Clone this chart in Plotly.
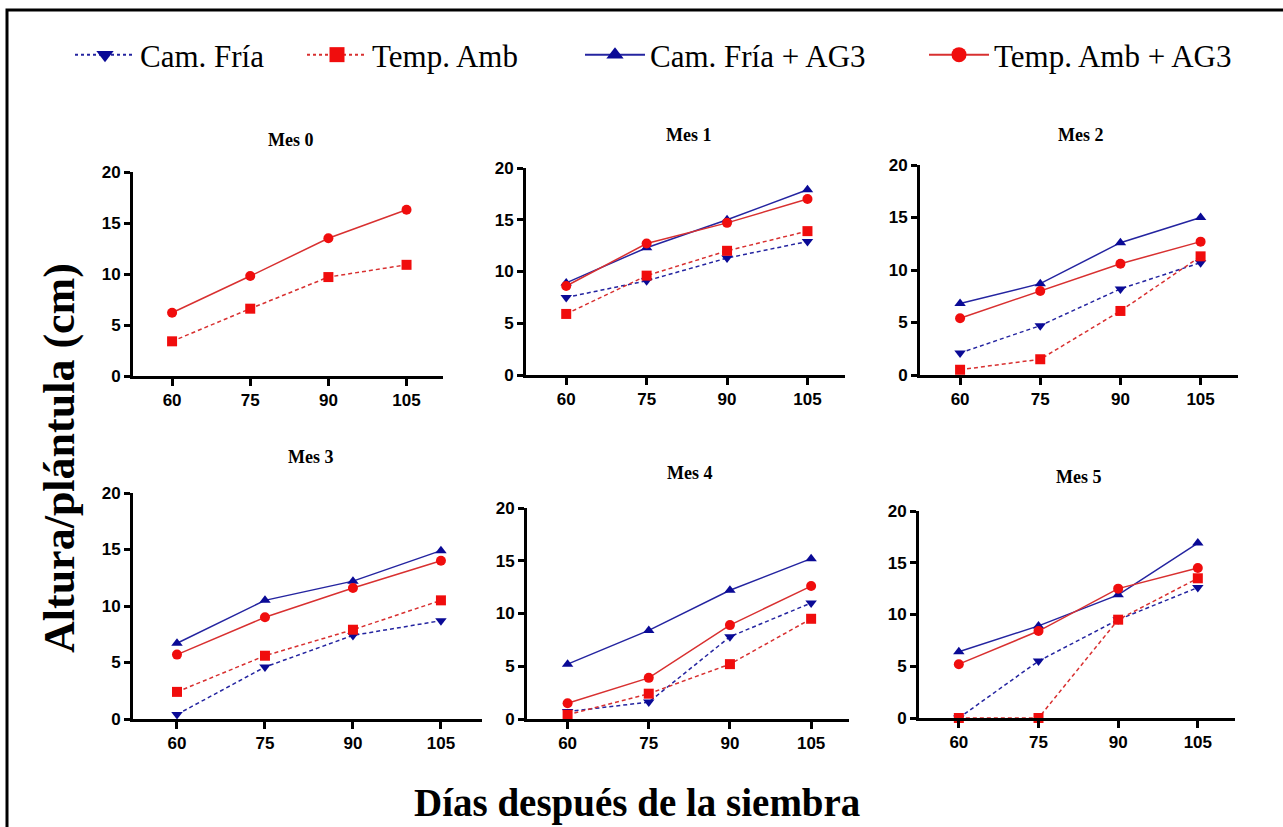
import plotly.graph_objects as go

# ---------------- data ----------------
days = [60, 75, 90, 105]
months = ["Mes 0", "Mes 1", "Mes 2", "Mes 3", "Mes 4", "Mes 5"]
y_ticks = [0, 5, 10, 15, 20]

cam_fria = [
    [None, None, None, None],
    [7.5, 9.1, 11.3, 12.9],
    [2.1, 4.7, 8.2, 10.7],
    [0.4, 4.6, 7.4, 8.7],
    [0.7, 1.6, 7.8, 11.0],
    [0.0, 5.5, 9.5, 12.6],
]
temp_amb = [
    [3.4, 6.6, 9.7, 10.9],
    [5.9, 9.6, 12.0, 13.9],
    [0.5, 1.5, 6.1, 11.3],
    [2.4, 5.6, 7.9, 10.5],
    [0.4, 2.4, 5.2, 9.5],
    [0.0, 0.0, 9.5, 13.5],
]
cam_fria_ag3 = [
    [None, None, None, None],
    [8.9, 12.3, 15.0, 17.9],
    [6.8, 8.7, 12.6, 15.0],
    [6.7, 10.5, 12.2, 14.9],
    [5.2, 8.4, 12.2, 15.2],
    [6.4, 8.9, 11.9, 16.9],
]
temp_amb_ag3 = [
    [6.2, 9.8, 13.5, 16.3],
    [8.6, 12.7, 14.7, 17.0],
    [5.4, 8.0, 10.6, 12.7],
    [5.7, 9.0, 11.6, 14.0],
    [1.5, 3.9, 8.9, 12.6],
    [5.2, 8.4, 12.5, 14.5],
]

series_names = ["Cam. Fría", "Temp. Amb", "Cam. Fría + AG3", "Temp. Amb + AG3"]
series_data = [cam_fria, temp_amb, cam_fria_ag3, temp_amb_ag3]

# ---------------- styles ----------------
W, H = 1283, 827
BLUE_M, BLUE_L = "#0a0a96", "#2424a0"
RED_M, RED_L = "#f00d0d", "#d83030"
styles = [
    dict(mc=BLUE_M, lc=BLUE_L, sym="triangle-down", dash="4px,3px"),
    dict(mc=RED_M, lc=RED_L, sym="square", dash="4px,3px"),
    dict(mc=BLUE_M, lc=BLUE_L, sym="triangle-up", dash="solid"),
    dict(mc=RED_M, lc=RED_L, sym="circle", dash="solid"),
]

# panel pixel boxes: (left, right, top, bottom)
panels = [
    (133, 443, 172, 376),
    (526, 845, 168, 375),
    (920, 1238, 165, 375),
    (133, 482, 493, 719),
    (527, 849, 508, 719),
    (919, 1235, 511, 718),
]
title_pos = [(290, 140), (688, 135), (1080, 135), (310, 457), (690, 473), (1078, 477)]

fig = go.Figure()

for p in range(6):
    ax = "" if p == 0 else str(p + 1)
    for s in range(4):
        st = styles[s]
        fig.add_trace(go.Scatter(
            x=days, y=series_data[s][p], mode="lines+markers",
            xaxis="x" + ax, yaxis="y" + ax, showlegend=False,
            cliponaxis=False,
            line=dict(color=st["lc"], width=1.5, dash=st["dash"]),
            marker=dict(symbol=st["sym"], size=10, color=st["mc"]),
            name=series_names[s],
        ))

# legend entries (legend-only traces with larger symbols)
legend_x = [70, 302, 580, 924]
for s in range(4):
    st = styles[s]
    fig.add_trace(go.Scatter(
        x=[None], y=[None], mode="lines+markers", name=series_names[s],
        legend="legend" if s == 0 else "legend" + str(s + 1),
        line=dict(color=st["lc"], width=2, dash="dot" if st["dash"] != "solid" else "solid"),
        marker=dict(symbol=st["sym"], size=15, color=st["mc"]),
        showlegend=True,
    ))

layout = dict(
    width=W, height=H,
    margin=dict(l=0, r=0, t=0, b=0, autoexpand=False),
    paper_bgcolor="white", plot_bgcolor="white",
    showlegend=True,
)

for s in range(4):
    key = "legend" if s == 0 else "legend" + str(s + 1)
    layout[key] = dict(
        x=legend_x[s] / W, y=1 - 55 / H, xanchor="left", yanchor="middle",
        orientation="h", bgcolor="rgba(0,0,0,0)", itemwidth=60,
        font=dict(family="Liberation Serif", size=31, color="black"),
    )

tickfont = dict(family="Liberation Sans", size=17, color="black", weight="bold")
for p, (l, r, t, b) in enumerate(panels):
    ax = "" if p == 0 else str(p + 1)
    layout["xaxis" + ax] = dict(
        domain=[l / W, r / W], anchor="y" + ax, range=[52.5, 112],
        tickvals=days, ticks="outside", ticklen=7, tickwidth=3, tickcolor="black",
        showline=True, linewidth=3, linecolor="black", showgrid=False, zeroline=False,
        tickfont=tickfont, fixedrange=True,
    )
    layout["yaxis" + ax] = dict(
        domain=[1 - b / H, 1 - t / H], anchor="x" + ax, range=[0, 20],
        tickvals=y_ticks, ticks="outside", ticklen=6, tickwidth=3, tickcolor="black",
        showline=True, linewidth=3, linecolor="black", showgrid=False, zeroline=False,
        tickfont=tickfont, fixedrange=True,
    )

annotations = []
for p in range(6):
    tx, ty = title_pos[p]
    annotations.append(dict(
        text=months[p], x=tx / W, y=1 - ty / H, xref="paper", yref="paper",
        showarrow=False, xanchor="center", yanchor="middle",
        font=dict(family="Liberation Serif", size=18, color="black", weight="bold"),
    ))
annotations.append(dict(
    text="Altura/plántula (cm)", x=60 / W, y=1 - 458 / H, xref="paper", yref="paper",
    showarrow=False, textangle=-90, xanchor="center", yanchor="middle",
    font=dict(family="Liberation Serif", size=44, color="black", weight="bold"),
))
annotations.append(dict(
    text="Días después de la siembra", x=637 / W, y=1 - 803 / H, xref="paper", yref="paper",
    showarrow=False, xanchor="center", yanchor="middle",
    font=dict(family="Liberation Serif", size=39, color="black", weight="bold"),
))
layout["annotations"] = annotations

layout["shapes"] = [dict(
    type="rect", xref="paper", yref="paper",
    x0=7 / W, x1=1.05, y0=-0.05, y1=1 - 10 / H,
    line=dict(color="black", width=3), fillcolor="rgba(0,0,0,0)", layer="above",
)]

fig.update_layout(**layout)
fig.write_html("out.html")
